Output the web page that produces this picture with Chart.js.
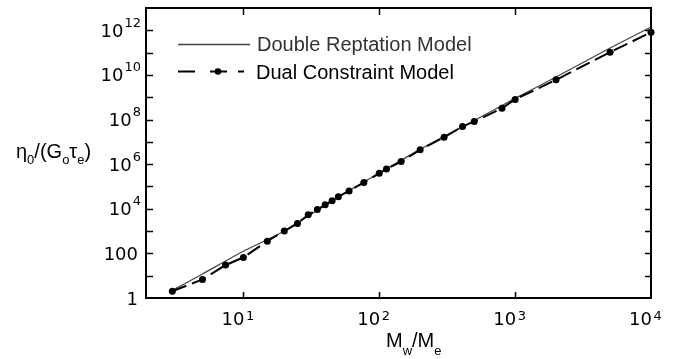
<!DOCTYPE html>
<html>
<head>
<meta charset="utf-8">
<script src="https://cdn.jsdelivr.net/npm/chart.js@4/dist/chart.umd.min.js"></script>
<style>
  html, body { margin: 0; padding: 0; background: #fff; }
  #wrap { width: 675px; height: 359px; }
</style>
</head>
<body>
<div id="wrap"><canvas id="c" width="675" height="359"></canvas></div>
<script>
// ---- data ----
const seriesNames = ['Dual Constraint Model', 'Double Reptation Model'];

const dualX = [3, 5, 7.4, 10, 15, 20, 25, 30, 35, 40, 45, 50, 60, 77, 100, 113, 145, 200, 300, 410, 500, 800, 1000, 2000, 5000, 10000];
const dualY = [2.0, 6.8, 30, 66, 350, 1000, 2200, 5400, 9300, 1.5e4, 2.3e4, 3.5e4, 6.3e4, 1.5e5, 3.9e5, 6.0e5, 1.3e6, 4.4e6, 1.6e7, 4.9e7, 8.1e7, 3.2e8, 8.0e8, 6.0e9, 1.05e11, 8.1e11];

const reptX = [3, 5, 10, 20, 50, 100, 200, 500, 1000, 2000, 5000, 10000];
const reptY = [2.2, 12, 125, 1000, 3.3e4, 4.0e5, 4.6e6, 9.0e7, 8.9e8, 8.0e9, 1.6e11, 1.4e12];

const xTickValues = [10, 100, 1000, 10000];
const xTickLabels = ['10^1', '10^2', '10^3', '10^4'];
const yTickValues = [1, 100, 1e4, 1e6, 1e8, 1e10, 1e12];
const yTickLabels = ['1', '100', '10^4', '10^6', '10^8', '10^10', '10^12'];
const yMinorValues = [1, 10, 100, 1e3, 1e4, 1e5, 1e6, 1e7, 1e8, 1e9, 1e10, 1e11, 1e12, 1e13];
const xMin = 1.92, xMax = 10000, yMin = 1, yMax = 1e13;

const xTitle = [['M', 'n'], ['w', 's'], ['/M', 'n'], ['e', 's']];
const yTitle = [['η', 'n'], ['0', 's'], ['/(G', 'n'], ['o', 's'], ['τ', 'n'], ['e', 's'], [')', 'n']];

// ---- drawing helpers ----
const FONT = "'Liberation Sans', Arial, Helvetica, sans-serif";
const TFONT = "'DejaVu Sans', 'Liberation Sans', sans-serif";

function drawRich(ctx, parts, x, baseline, big, small, drop) {
  ctx.textAlign = 'left';
  ctx.textBaseline = 'alphabetic';
  let cx = x;
  for (const [t, k] of parts) {
    ctx.font = (k === 's' ? small : big) + 'px ' + FONT;
    ctx.fillText(t, cx, k === 's' ? baseline + drop : baseline);
    cx += ctx.measureText(t).width;
  }
}

const decorPlugin = {
  id: 'decor',
  afterDraw(chart) {
    const ctx = chart.ctx;
    const a = chart.chartArea;
    const xs = chart.scales.x, ys = chart.scales.y;
    ctx.save();
    ctx.fillStyle = '#000';
    ctx.strokeStyle = '#000';
    // frame
    ctx.lineWidth = 2;
    ctx.strokeRect(a.left, a.top, a.right - a.left, a.bottom - a.top);
    // ticks (inward)
    ctx.lineWidth = 1.5;
    ctx.beginPath();
    for (const v of yMinorValues) {
      const y = Math.round(ys.getPixelForValue(v)) + 0.5;
      if (y < a.top + 2 || y > a.bottom - 2) continue;
      ctx.moveTo(a.left, y); ctx.lineTo(a.left + 7, y);
      ctx.moveTo(a.right, y); ctx.lineTo(a.right - 6, y);
    }
    for (const v of xTickValues) {
      const x = Math.round(xs.getPixelForValue(v)) + 0.5;
      if (x > a.right - 2) continue;
      ctx.moveTo(x, a.bottom); ctx.lineTo(x, a.bottom - 6);
      ctx.moveTo(x, a.top); ctx.lineTo(x, a.top + 7);
    }
    ctx.stroke();

    // y tick labels
    yTickLabels.forEach((lab, i) => {
      const y = ys.getPixelForValue(yTickValues[i]);
      const p = lab.split('^');
      ctx.textBaseline = 'alphabetic';
      if (p.length === 1) {
        ctx.font = '18px ' + TFONT;
        ctx.textAlign = 'right';
        ctx.fillText(p[0], 138, y + 6.5);
      } else {
        ctx.font = '13px ' + TFONT;
        const we = ctx.measureText(p[1]).width;
        ctx.textAlign = 'left';
        ctx.fillText(p[1], 141 - we, y - 3.5);
        ctx.font = '18px ' + TFONT;
        ctx.textAlign = 'right';
        ctx.fillText(p[0], 141 - we - 1, y + 6.5);
      }
    });
    // x tick labels
    xTickLabels.forEach((lab, i) => {
      const x = xs.getPixelForValue(xTickValues[i]);
      const p = lab.split('^');
      ctx.textBaseline = 'alphabetic';
      ctx.font = '18px ' + TFONT;
      ctx.textAlign = 'right';
      ctx.fillText(p[0], x + 1, 325);
      ctx.font = '13px ' + TFONT;
      ctx.textAlign = 'left';
      ctx.fillText(p[1], x + 2.5, 319.5);
    });

    // axis titles
    drawRich(ctx, xTitle, 386, 347, 20, 13, 8);
    drawRich(ctx, yTitle, 16, 158, 20, 13, 5.5);

    // legend
    ctx.strokeStyle = '#444';
    ctx.lineWidth = 1.3;
    ctx.beginPath(); ctx.moveTo(178, 44.5); ctx.lineTo(250, 44.5); ctx.stroke();
    ctx.strokeStyle = '#000';
    ctx.lineWidth = 2;
    ctx.beginPath();
    ctx.moveTo(178, 71.5); ctx.lineTo(195, 71.5);
    ctx.moveTo(210, 71.5); ctx.lineTo(227, 71.5);
    ctx.moveTo(238, 71.5); ctx.lineTo(244, 71.5);
    ctx.stroke();
    ctx.beginPath(); ctx.arc(218, 71.5, 3.3, 0, Math.PI * 2); ctx.fill();
    ctx.font = '20px ' + FONT;
    ctx.textAlign = 'left';
    ctx.textBaseline = 'alphabetic';
    ctx.fillStyle = '#333';
    ctx.fillText(seriesNames[1], 257, 50.5);
    ctx.fillStyle = '#000';
    ctx.fillText(seriesNames[0], 256, 78.5);
    ctx.restore();
  }
};

new Chart(document.getElementById('c'), {
  type: 'line',
  data: {
    datasets: [
      {
        label: seriesNames[0],
        data: dualX.map((x, i) => ({ x, y: dualY[i] })),
        borderColor: '#000',
        backgroundColor: '#000',
        borderWidth: 2,
        borderDash: [15, 6],
        pointRadius: 3.5,
        pointBorderWidth: 0,
        pointBackgroundColor: '#000',
        fill: false,
        tension: 0,
        clip: 6
      },
      {
        label: seriesNames[1],
        data: reptX.map((x, i) => ({ x, y: reptY[i] })),
        borderColor: '#444',
        borderWidth: 1.2,
        pointRadius: 0,
        fill: false,
        tension: 0.2,
        clip: 4
      }
    ]
  },
  options: {
    responsive: false,
    animation: false,
    devicePixelRatio: 1,
    layout: { padding: { left: 146, top: 8, right: 24, bottom: 61 } },
    plugins: { legend: { display: false }, tooltip: { enabled: false } },
    scales: {
      x: { type: 'logarithmic', min: xMin, max: xMax, display: false },
      y: { type: 'logarithmic', min: yMin, max: yMax, display: false }
    }
  },
  plugins: [decorPlugin]
});
</script>
</body>
</html>
